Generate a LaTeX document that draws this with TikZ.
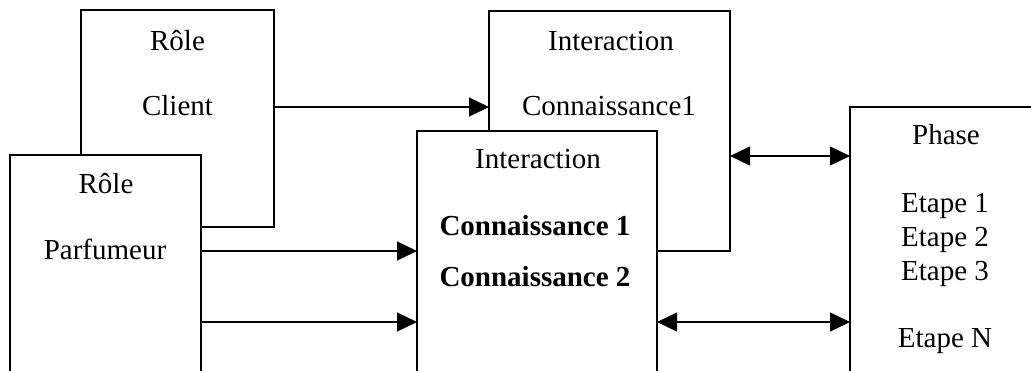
\documentclass[tikz,border=0pt]{standalone}
\usepackage{fontspec}
\setmainfont{Liberation Serif}
\usetikzlibrary{arrows.meta}
\begin{document}
\begin{tikzpicture}[x=1pt,y=-1pt,
  box/.style={draw, line width=1.2pt, fill=white, inner sep=0pt, outer sep=0pt, anchor=north west, rectangle},
  lbl/.style={anchor=base, inner sep=0pt, font=\fontsize{29}{35}\selectfont},
  blbl/.style={lbl, font=\fontsize{29}{35}\selectfont\bfseries},
  tip/.tip={Triangle[length=20pt,width=19pt]},
  arr/.style={line width=1.2pt, -tip},
  darr/.style={line width=1.2pt, tip-tip}]
\useasboundingbox (0,0) rectangle (1031,370);
\clip (0,0) rectangle (1031,370);
% boxes
\node[box, minimum width=193pt, minimum height=217pt] (client) at (81,10) {};
\node[box, minimum width=191pt, minimum height=300pt] (parf) at (10,155) {};
\node[box, minimum width=241pt, minimum height=240pt] (inter1) at (489,11) {};
\node[box, minimum width=240pt, minimum height=300pt] (inter2) at (417,131) {};
\node[box, minimum width=300pt, minimum height=300pt] (phase) at (850,107) {};
% texts
\node[lbl] (t1) at (177.5,50) {Rôle};
\node[lbl] (t2) at (177.5,115) {Client};
\node[lbl] (t3) at (106,193) {Rôle};
\node[lbl] (t4) at (105,259) {Parfumeur};
\node[lbl] (t5) at (611,50) {Interaction};
\node[lbl] (t6) at (609,115) {Connaissance1};
\node[lbl] (t7) at (538,168) {Interaction};
\node[blbl] (t8) at (535,235) {Connaissance 1};
\node[blbl] (t9) at (535,286) {Connaissance 2};
\node[lbl] (t10) at (946,144) {Phase};
\node[lbl] (t11) at (945,212) {Etape 1};
\node[lbl] (t12) at (945,246) {Etape 2};
\node[lbl] (t13) at (945,280) {Etape 3};
\node[lbl] (t14) at (945,347) {Etape N};
% connector rows
\coordinate (r1) at (0,107);
\coordinate (r2) at (0,251);
\coordinate (r3) at (0,322);
\coordinate (r4) at (0,156);
\draw[arr] (client.east |- r1) -- (inter1.west |- r1);
\draw[arr] (parf.east |- r2) -- (inter2.west |- r2);
\draw[arr] (parf.east |- r3) -- (inter2.west |- r3);
\draw[darr] (inter1.east |- r4) -- (phase.west |- r4);
\draw[darr] (inter2.east |- r3) -- (phase.west |- r3);
\end{tikzpicture}
\end{document}
